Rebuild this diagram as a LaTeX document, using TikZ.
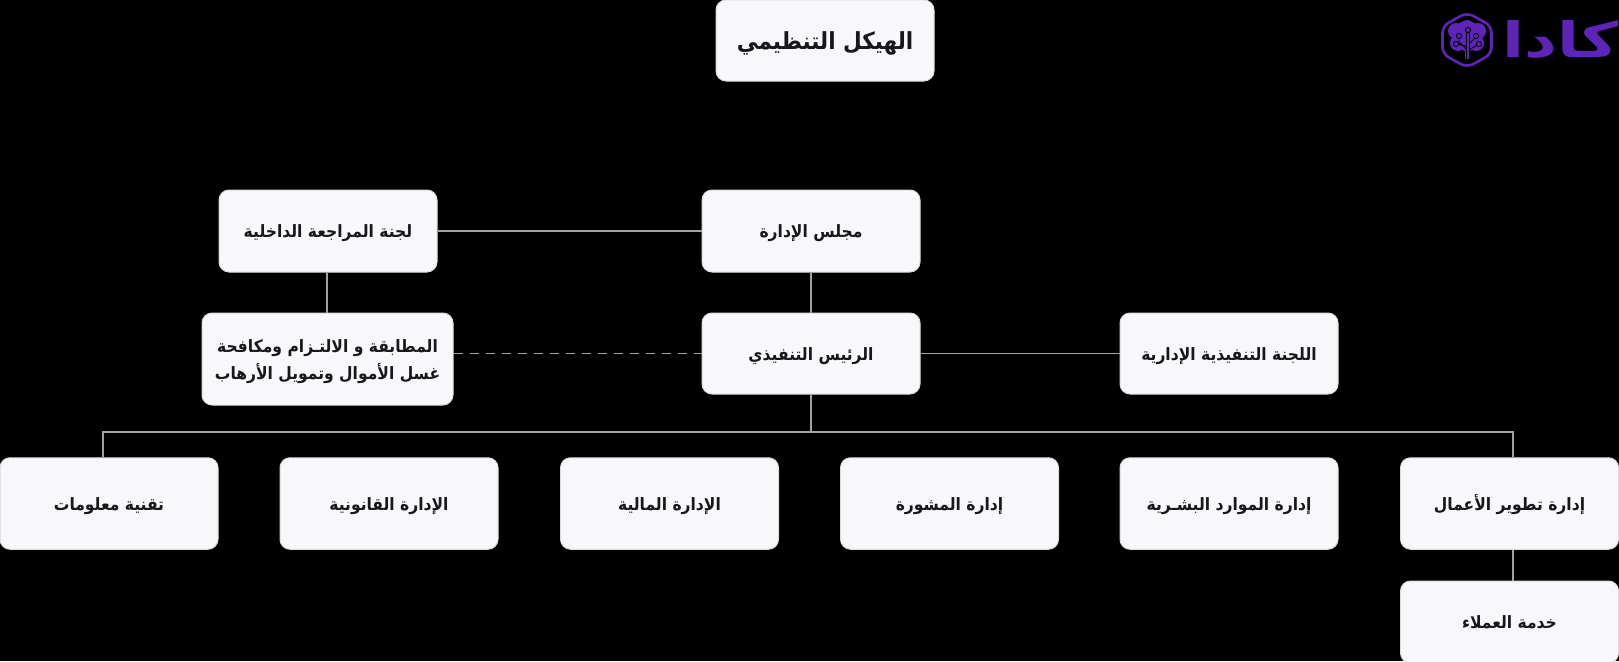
\documentclass[tikz,border=0pt]{standalone}
\usepackage{fontspec}
\usepackage{graphicx}
\setmainfont{DejaVu Sans}
\newfontfamily\arabicfont[Script=Arabic,FakeStretch=0.915]{DejaVu Sans}
\newfontfamily\logofont[Script=Arabic]{DejaVu Sans}
\TeXXeTstate=1
\definecolor{boxfill}{HTML}{F8F8FB}
\definecolor{boxedge}{HTML}{DADADF}
\definecolor{linkgray}{HTML}{A3A3A3}
\definecolor{brand}{HTML}{5E24B8}
\definecolor{ink}{HTML}{17171C}
\newcommand{\ar}[1]{\beginR #1\endR}
\tikzset{
  x=1pt,y=-1pt,
  orgbox/.style={draw=boxedge,line width=1pt,fill=boxfill,rounded corners=10pt,
    minimum width=218pt,minimum height=82pt,inner sep=0pt,align=center,text=ink,
    text height=17pt,text depth=4pt,
    font=\arabicfont\bfseries\fontsize{17}{27}\selectfont},
  link/.style={draw=linkgray,line width=1.8pt},
}
\begin{document}
\begin{tikzpicture}
\useasboundingbox (0,0) rectangle (1619,661);
\fill[black] (0,0) rectangle (1619,661);
% connector coordinates
\coordinate (bus) at (811,432);
\coordinate (busL) at (103,432);
\coordinate (busR) at (1513,432);
\coordinate (auditdrop) at (327,280);
% boxes
\node[orgbox,minimum height=81pt,text height=22pt,text depth=3pt,font=\arabicfont\bfseries\fontsize{23.5}{27}\selectfont] (title) at (825,40.5) {\ar{الهيكل التنظيمي}};
\node[orgbox] (audit) at (328,231) {\ar{لجنة المراجعة الداخلية}};
\node[orgbox] (board) at (811,231) {\ar{مجلس الإدارة}};
\node[orgbox,minimum height=81pt] (ceo) at (811,353.5) {\ar{الرئيس التنفيذي}};
\node[orgbox,minimum width=251pt,minimum height=92pt,text height=42pt,text depth=2pt] (comp) at (327.5,359) {\ar{المطابقة و الالتـزام ومكافحة}\\\ar{غسل الأموال وتمويل الأرهاب}};
\node[orgbox,minimum height=81pt] (exec) at (1229,353.5) {\ar{اللجنة التنفيذية الإدارية}};
\node[orgbox,minimum height=91.5pt] (it) at (109,503.5) {\ar{تقنية معلومات}};
\node[orgbox,minimum height=91.5pt] (legal) at (389,503.5) {\ar{الإدارة القانونية}};
\node[orgbox,minimum height=91.5pt] (fin) at (669.5,503.5) {\ar{الإدارة المالية}};
\node[orgbox,minimum height=91.5pt] (adv) at (949.5,503.5) {\ar{إدارة المشورة}};
\node[orgbox,minimum height=91.5pt] (hr) at (1229,503.5) {\ar{إدارة الموارد البشـرية}};
\node[orgbox,minimum height=91.5pt] (bd) at (1509.5,503.5) {\ar{إدارة تطوير الأعمال}};
\node[orgbox] (cs) at (1509.5,622) {\ar{خدمة العملاء}};
% connectors
\draw[link] (audit) -- (board);
\draw[link] (board) -- (ceo);
\draw[link] (ceo) -- (exec);
\draw[link,dash pattern=on 9pt off 7pt] (comp.east |- ceo) -- (ceo.west);
\draw[link] (audit.south -| auditdrop) -- (comp.north -| auditdrop);
\draw[link] (ceo) -- (bus);
\draw[link] (busL |- it.north) -- (busL) -- (busR) -- (busR |- bd.north);
\draw[link] (bd.south -| busR) -- (cs.north -| busR);
% logo mark
\draw[draw=brand,line width=2.6pt,rounded corners=7pt] (1467,12.5) -- (1491.5,26) -- (1491.5,54) -- (1467,67.5) -- (1442.5,54) -- (1442.5,26) -- cycle;
\fill[brand] (1467,36) circle (15);
\fill[brand] (1456,31) circle (8) (1478,31) circle (8) (1458,43) circle (8) (1476,43) circle (8) (1467,27) circle (7);
\fill[brand] (1465,48) rectangle (1470,59);
\draw[black,line width=.9pt] (1466,59) -- (1466,32) (1469,59) -- (1469,32);
\draw[black,line width=.9pt] (1466,49) -- (1459,42) -- (1459,38);
\draw[black,line width=.9pt] (1469,50) -- (1477,45);
\draw[black,line width=.9pt] (1469,44) -- (1475,38);
\draw[black,line width=.9pt] (1466,46) -- (1458,44);
\draw[black,line width=.9pt,fill=brand] (1468,30) circle (2.6) (1459,36) circle (2.6) (1476,36) circle (2.6) (1479,44) circle (2.6) (1456,44) circle (2.6);
% word mark
\node[anchor=east,inner sep=0pt,text=brand] (word) at (1619,40) {\resizebox{116pt}{37pt}{\logofont\bfseries\ar{كادا}}};
\end{tikzpicture}
\end{document}
